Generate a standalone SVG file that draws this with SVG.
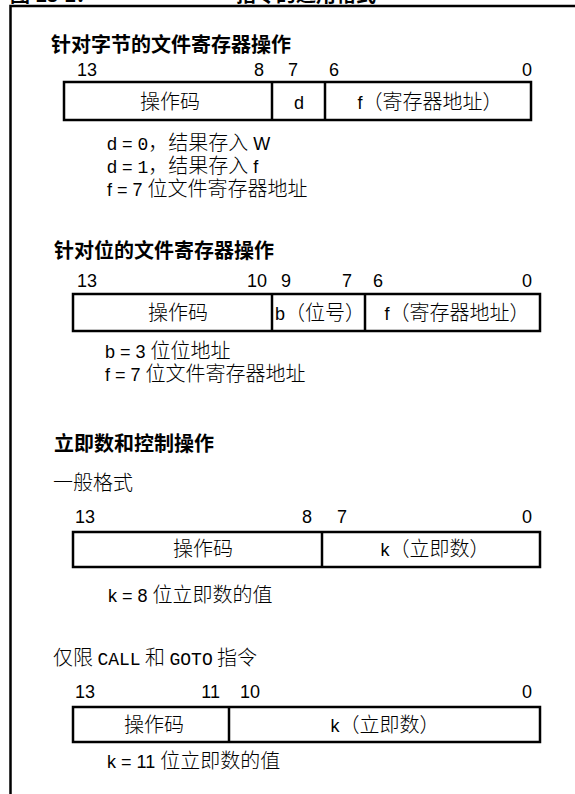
<svg xmlns="http://www.w3.org/2000/svg" width="575" height="794" viewBox="0 0 575 794">
<style>
.frame{fill:none;stroke:#000;stroke-width:2.5}
.box{fill:#fff;stroke:#000;stroke-width:2.5}
.div{stroke:#000;stroke-width:2.5}
text{font-family:"Liberation Sans","Noto Sans CJK SC",sans-serif;font-size:18px;fill:#000}
.h{font-family:"Liberation Sans","Noto Sans CJK SC",sans-serif;font-size:20px;font-weight:bold}
.c{font-family:"Noto Sans CJK SC",sans-serif;font-size:20px;font-weight:300}
.m{font-family:"Liberation Mono",monospace;font-size:18px}
.mid{text-anchor:middle}
.end{text-anchor:end}
</style>
<g id="title">
<text class="h" x="10" y="2">图 13-1：</text>
<text class="h" x="236" y="2">指令的通用格式</text>
</g>
<g id="frame">
<path class="frame" d="M10.5,794 V6 H575"/>
</g>
<g id="byte-ops">
<text class="h" x="51" y="52">针对字节的文件寄存器操作</text>
<text x="77" y="76">13</text>
<text class="end" x="264" y="76">8</text>
<text x="288" y="76">7</text>
<text x="329" y="76">6</text>
<text class="end" x="532" y="76">0</text>
<rect class="box" x="64" y="82" width="467" height="38"/>
<line class="div" x1="272" y1="82" x2="272" y2="120"/>
<line class="div" x1="325" y1="82" x2="325" y2="120"/>
<text class="c mid" x="170" y="109">操作码</text>
<text class="mid" x="299" y="109">d</text>
<text class="mid" x="430" y="109">f<tspan class="c">（寄存器地址）</tspan></text>
<text x="107" y="150">d = <tspan class="m">0</tspan><tspan class="c">，结果存入</tspan> W</text>
<text x="107" y="173">d = <tspan class="m">1</tspan><tspan class="c">，结果存入</tspan> f</text>
<text x="107" y="196">f = 7 <tspan class="c">位文件寄存器地址</tspan></text>
</g>
<g id="bit-ops">
<text class="h" x="54" y="258">针对位的文件寄存器操作</text>
<text x="77" y="287">13</text>
<text x="247" y="287">10</text>
<text x="281" y="287">9</text>
<text x="342" y="287">7</text>
<text x="373" y="287">6</text>
<text class="end" x="532" y="287">0</text>
<rect class="box" x="73" y="294" width="467" height="37"/>
<line class="div" x1="272" y1="294" x2="272" y2="331"/>
<line class="div" x1="365" y1="294" x2="365" y2="331"/>
<text class="c mid" x="178" y="320">操作码</text>
<text x="275" y="320">b<tspan class="c">（位号）</tspan></text>
<text class="mid" x="457" y="320">f<tspan class="c">（寄存器地址）</tspan></text>
<text x="105" y="358">b = 3 <tspan class="c">位位地址</tspan></text>
<text x="105" y="381">f = 7 <tspan class="c">位文件寄存器地址</tspan></text>
</g>
<g id="literal-ops">
<text class="h" x="54" y="451">立即数和控制操作</text>
<text class="c" x="53" y="490">一般格式</text>
<text x="75" y="523">13</text>
<text class="end" x="312" y="523">8</text>
<text x="337" y="523">7</text>
<text class="end" x="532" y="523">0</text>
<rect class="box" x="73" y="532" width="467" height="35"/>
<line class="div" x1="322" y1="532" x2="322" y2="568"/>
<text class="c mid" x="203" y="556">操作码</text>
<text class="mid" x="435" y="556">k<tspan class="c">（立即数）</tspan></text>
<text x="108" y="602">k = 8 <tspan class="c">位立即数的值</tspan></text>
</g>
<g id="call-goto">
<text class="c" x="53" y="665">仅限 <tspan class="m">CALL</tspan> 和 <tspan class="m">GOTO</tspan> 指令</text>
<text x="75" y="698">13</text>
<text class="end" x="220" y="698">11</text>
<text x="240" y="698">10</text>
<text class="end" x="532" y="698">0</text>
<rect class="box" x="73" y="707" width="467" height="35"/>
<line class="div" x1="229" y1="707" x2="229" y2="743"/>
<text class="c mid" x="154" y="732">操作码</text>
<text class="mid" x="385" y="732">k<tspan class="c">（立即数）</tspan></text>
<text x="107" y="768">k = 11 <tspan class="c">位立即数的值</tspan></text>
</g>
</svg>
